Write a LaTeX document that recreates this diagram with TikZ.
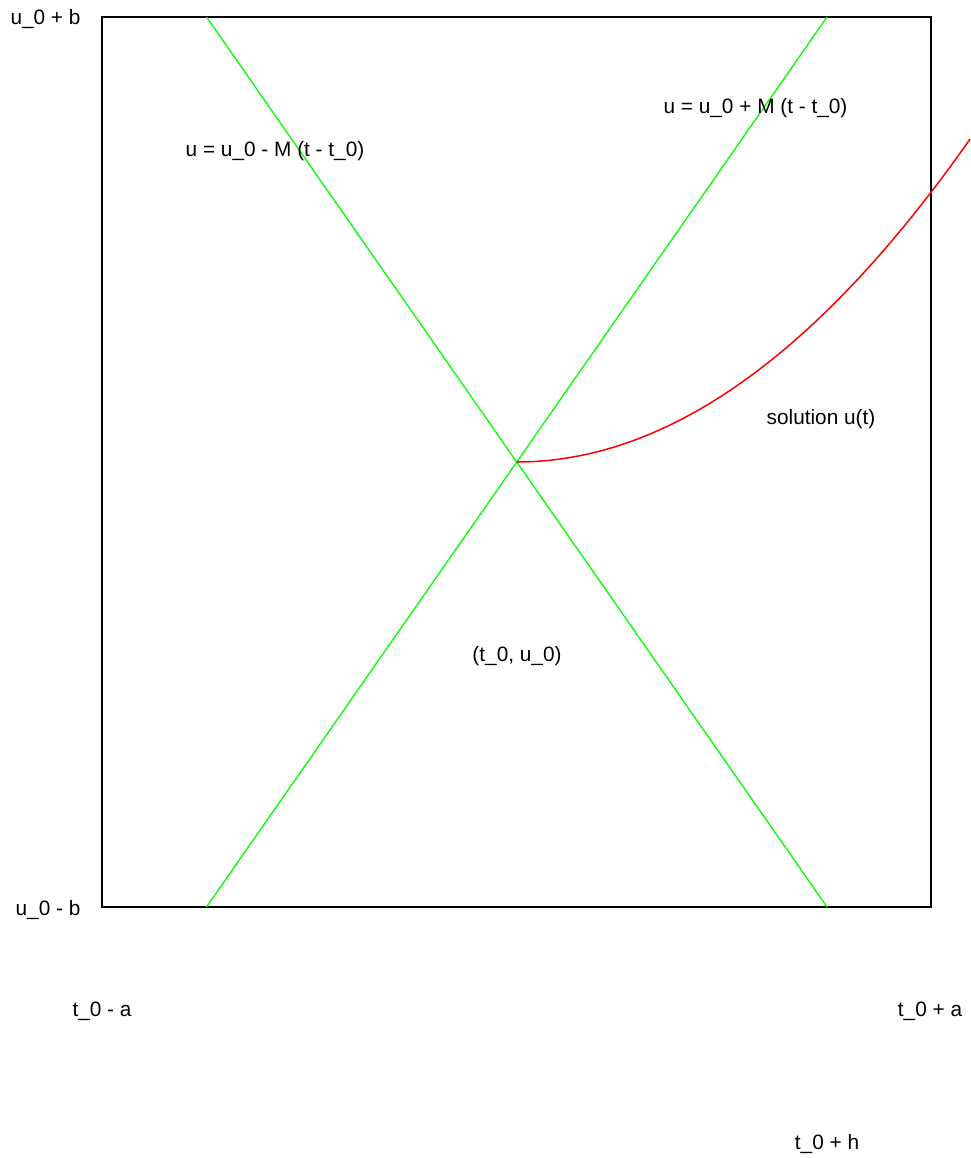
\documentclass[tikz,border=0pt]{standalone}
\usepackage{fontspec}
\setmainfont{Liberation Sans}
\definecolor{boundgreen}{RGB}{0,255,0}
\begin{document}
\begin{tikzpicture}[
    x=1pt, y=-1pt,
    every node/.style={font=\fontsize{20.8}{25}\selectfont, inner sep=0pt, anchor=base},
    frame/.style={draw=black, line width=1.3pt},
    bound/.style={draw=boundgreen, line width=1.3pt},
    sol/.style={draw=red, line width=1.5pt}
]
\useasboundingbox (0,0) rectangle (970,1158);
\coordinate (tl) at (102,17);
\coordinate (br) at (931,907);
\coordinate (tlx) at (206.5,17);
\coordinate (trx) at (827,17);
\coordinate (blx) at (206.5,907);
\coordinate (brx) at (827,907);
\coordinate (start) at (516.5,462);
\draw[frame] (tl) rectangle (br);
\draw[bound] (tlx) -- (brx);
\draw[bound] (blx) -- (trx);
\draw[sol] plot[domain=516.5:970, samples=80, smooth] (\x, {462-15.7*((\x-516.5)/100)^2});
\node (ub) at (45.5,25) {u\_0 + b};
\node (lb) at (48,915) {u\_0 - b};
\node (ta) at (102,1016) {t\_0 - a};
\node (tb) at (930,1016) {t\_0 + a};
\node (th) at (827,1149) {t\_0 + h};
\node (down) at (275,157) {u = u\_0 - M (t - t\_0)};
\node (up) at (755.5,114) {u = u\_0 + M (t - t\_0)};
\node (solname) at (821,424) {solution u(t)};
\node (init) at (517,661) {(t\_0, u\_0)};
\end{tikzpicture}
\end{document}
